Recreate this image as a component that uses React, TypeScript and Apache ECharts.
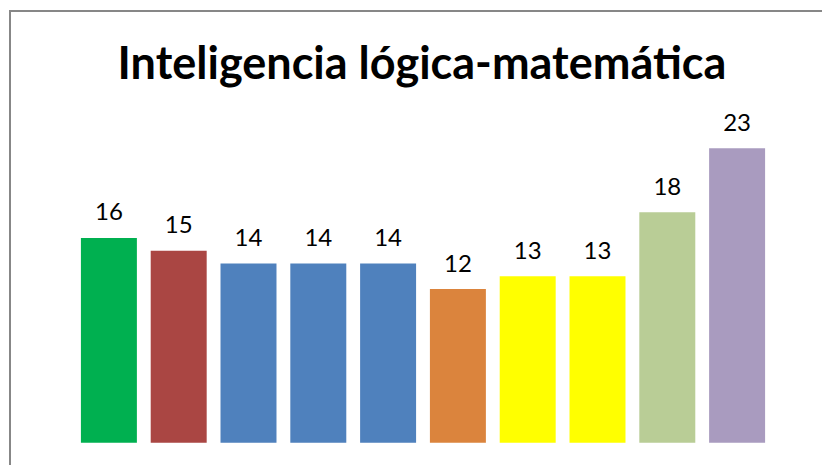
import React, { useEffect, useRef } from "react";
import * as echarts from "echarts";

const categories = ["1", "2", "3", "4", "5", "6", "7", "8", "9", "10"];
const values = [16, 15, 14, 14, 14, 12, 13, 13, 18, 23];
const barColors = [
  "#00B050",
  "#AA4643",
  "#4F81BD",
  "#4F81BD",
  "#4F81BD",
  "#DB843D",
  "#FFFF00",
  "#FFFF00",
  "#B9CD96",
  "#A99BBF",
];
const titleText = "Inteligencia lógica-matemática";

export default function App() {
  const ref = useRef<HTMLDivElement>(null);
  useEffect(() => {
    if (!ref.current) return;
    const chart = echarts.init(ref.current, null, { renderer: "svg" });
    chart.setOption({
      animation: false,
      backgroundColor: "#ffffff",
      graphic: [
        {
          type: "rect",
          shape: { x: 10, y: 11, width: 900, height: 600 },
          style: { fill: "none", stroke: "#878787", lineWidth: 2 },
          silent: true,
        },
        {
          type: "text",
          x: 422,
          y: 62,
          style: {
            text: titleText,
            font: "bold 45px Lato",
            fill: "#000000",
            textAlign: "center",
            textVerticalAlign: "middle",
          },
        },
      ],
      grid: { left: 74, top: 122.7, width: 698, height: 320, containLabel: false },
      xAxis: {
        type: "category",
        data: categories,
        axisLine: { show: false },
        axisTick: { show: false },
        axisLabel: { show: false },
        splitLine: { show: false },
      },
      yAxis: {
        type: "value",
        min: 0,
        max: 25,
        show: false,
        splitLine: { show: false },
      },
      series: [
        {
          type: "bar",
          data: values.map((v, i) => ({ value: v, itemStyle: { color: barColors[i] } })),
          barCategoryGap: "19.8%",
          label: {
            show: true,
            position: "top",
            distance: 15,
            fontFamily: "Lato",
            fontSize: 24,
            color: "#000000",
          },
        },
      ],
    });
    return () => chart.dispose();
  }, []);
  return (
    <div
      ref={ref}
      style={{ position: "fixed", left: 0, top: 0, width: 822, height: 465 }}
    />
  );
}
